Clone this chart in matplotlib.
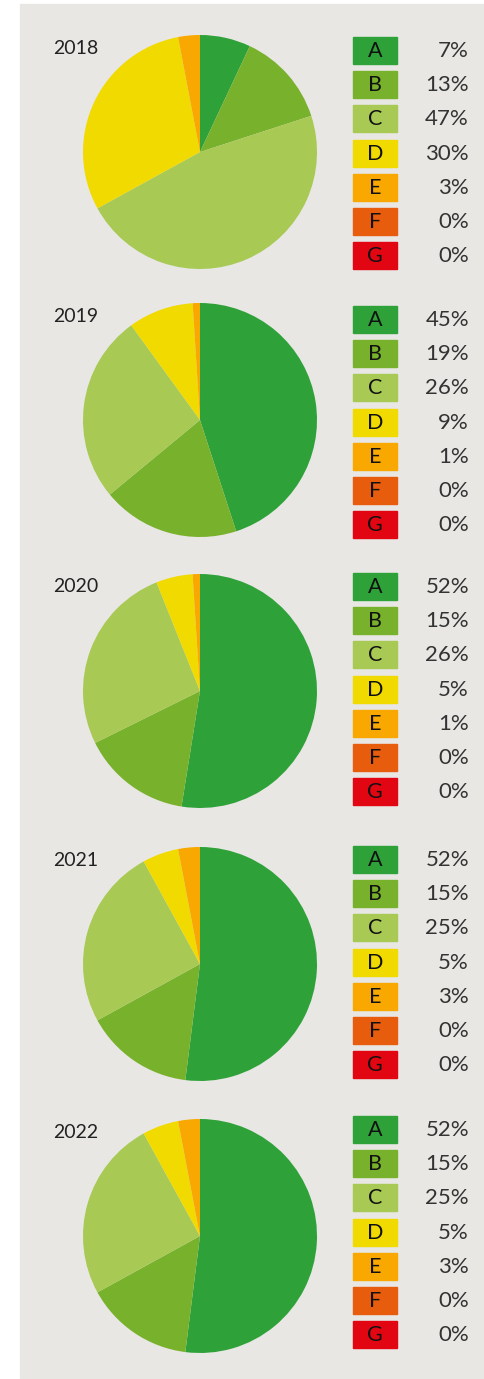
import matplotlib.pyplot as plt
from matplotlib.patches import Rectangle

plt.rcParams['font.family'] = ['Lato', 'DejaVu Sans']

years = ['2018', '2019', '2020', '2021', '2022']
classes = ['A', 'B', 'C', 'D', 'E', 'F', 'G']
colors = ['#2ea239', '#78b12c', '#a8c953', '#f0da00', '#f8a800', '#e85c0e', '#e20613']
shares = [
    [7, 13, 47, 30, 3, 0, 0],
    [45, 19, 26, 9, 1, 0, 0],
    [52, 15, 26, 5, 1, 0, 0],
    [52, 15, 25, 5, 3, 0, 0],
    [52, 15, 25, 5, 3, 0, 0],
]

W, H = 484, 1379
fig = plt.figure(figsize=(W / 100, H / 100), dpi=100)
ax = fig.add_axes([0, 0, 1, 1])

# grey panel
ax.add_patch(Rectangle((20, 1), W - 20, H - 5, color='#e8e7e4', zorder=0))

pie_cy = [152, 420, 691, 964, 1236]
box_top = [37, 306, 573, 846, 1116]

for year, vals, cy, bt in zip(years, shares, pie_cy, box_top):
    nz = [(v, c) for v, c in zip(vals, colors) if v > 0]
    ax.pie([v for v, _ in nz], colors=[c for _, c in nz], startangle=90,
           counterclock=False, center=(200, H - cy), radius=117,
           wedgeprops=dict(linewidth=0))
    ax.text(53, H - (cy - 104), year, fontsize=14, color='#222222',
            ha='left', va='center')
    for i, (cls, col, v) in enumerate(zip(classes, colors, vals)):
        top = bt + i * 34.2
        ax.add_patch(Rectangle((353, H - top - 27), 44, 27, color=col, zorder=2))
        ax.text(375, H - top - 14, cls, fontsize=15.5, color='#111111',
                ha='center', va='center', zorder=3)
        ax.text(469, H - top - 14, f'{v}%', fontsize=16, color='#333333',
                ha='right', va='center', zorder=3)

ax.set_xlim(0, W)
ax.set_ylim(0, H)
ax.set_aspect('auto')
ax.axis('off')
fig.savefig('out.png', dpi=100, facecolor='white')
